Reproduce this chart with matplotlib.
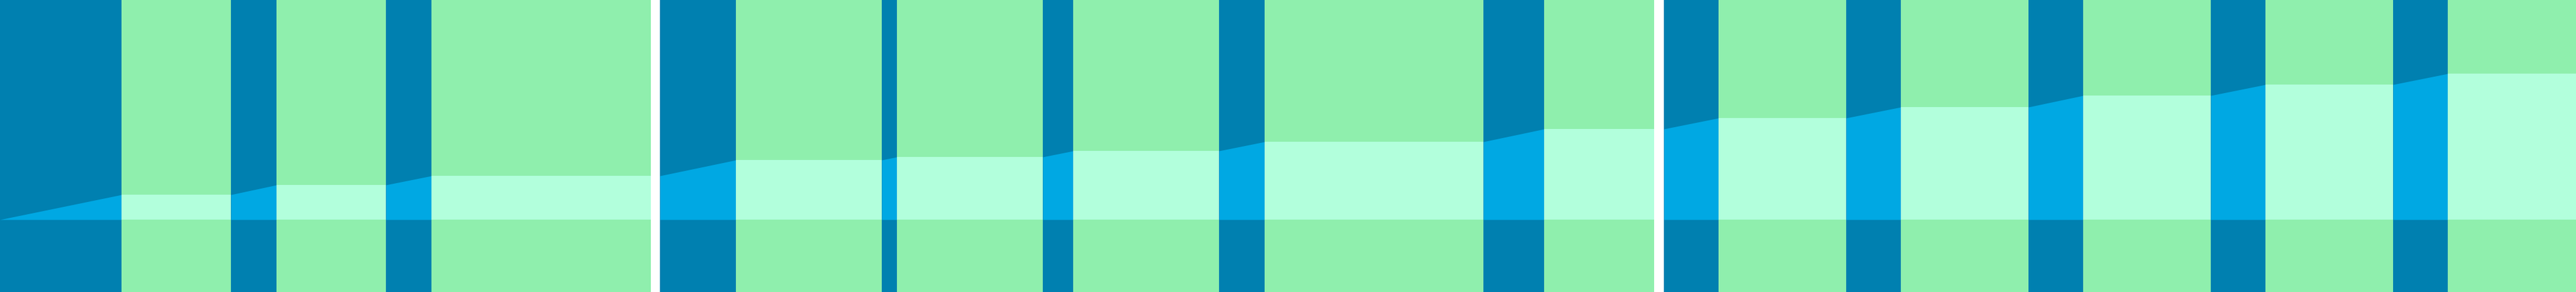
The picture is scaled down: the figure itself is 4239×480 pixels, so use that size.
import matplotlib
matplotlib.use("Agg")
import matplotlib.pyplot as plt
import numpy as np

# ---- data (baseline = 0) ----
panel1_start = 0
panel1_values = [41, 57, 72]
panel2_start = 72
panel2_values = [98, 103, 113, 128, 149]
panel3_start = 149
panel3_values = [167, 185, 204, 222, 240]

# ---- layout (pixel geometry of gaps/bars inside each panel) ----
panel1_gaps = [200, 75, 75]
panel1_bars = [180, 180, 361]
panel2_gaps = [125, 25, 50, 75, 100]
panel2_bars = [240, 240, 240, 360, 181]
panel3_gaps = [90, 90, 90, 90, 90]
panel3_bars = [210, 210, 210, 210, 211]

panel_x = [(0, 1071), (1086, 2722), (2738, 4239)]

W, H = 4239, 480
DARK = "#0080B0"
GREEN = "#8FEFAD"
MINT = "#B2FFDC"
BRIGHT = "#00A8E3"

fig = plt.figure(figsize=(W / 100, H / 100), dpi=100)
fig.patch.set_facecolor("white")


def draw_panel(ax, start, values, gaps, bars, width):
    x = 0
    prev = start
    for v, g, b in zip(values, gaps, bars):
        # gap column
        ax.axvspan(x, x + g, color=DARK, lw=0)
        ax.fill_between([x, x + g], [prev, v], 0, color=BRIGHT, lw=0)
        x += g
        # bar column
        ax.axvspan(x, x + b, color=GREEN, lw=0)
        ax.fill_between([x, x + b], [v, v], 0, color=MINT, lw=0)
        x += b
        prev = v
    ax.set_xlim(0, width)
    ax.set_ylim(-119, 361)
    ax.axis("off")


panels = [
    (panel1_start, panel1_values, panel1_gaps, panel1_bars),
    (panel2_start, panel2_values, panel2_gaps, panel2_bars),
    (panel3_start, panel3_values, panel3_gaps, panel3_bars),
]

for (x0, x1), (s, vals, gaps, bars) in zip(panel_x, panels):
    ax = fig.add_axes([x0 / W, 0, (x1 - x0) / W, 1])
    draw_panel(ax, s, vals, gaps, bars, x1 - x0)

fig.savefig("out.png", dpi=100, facecolor="white")
